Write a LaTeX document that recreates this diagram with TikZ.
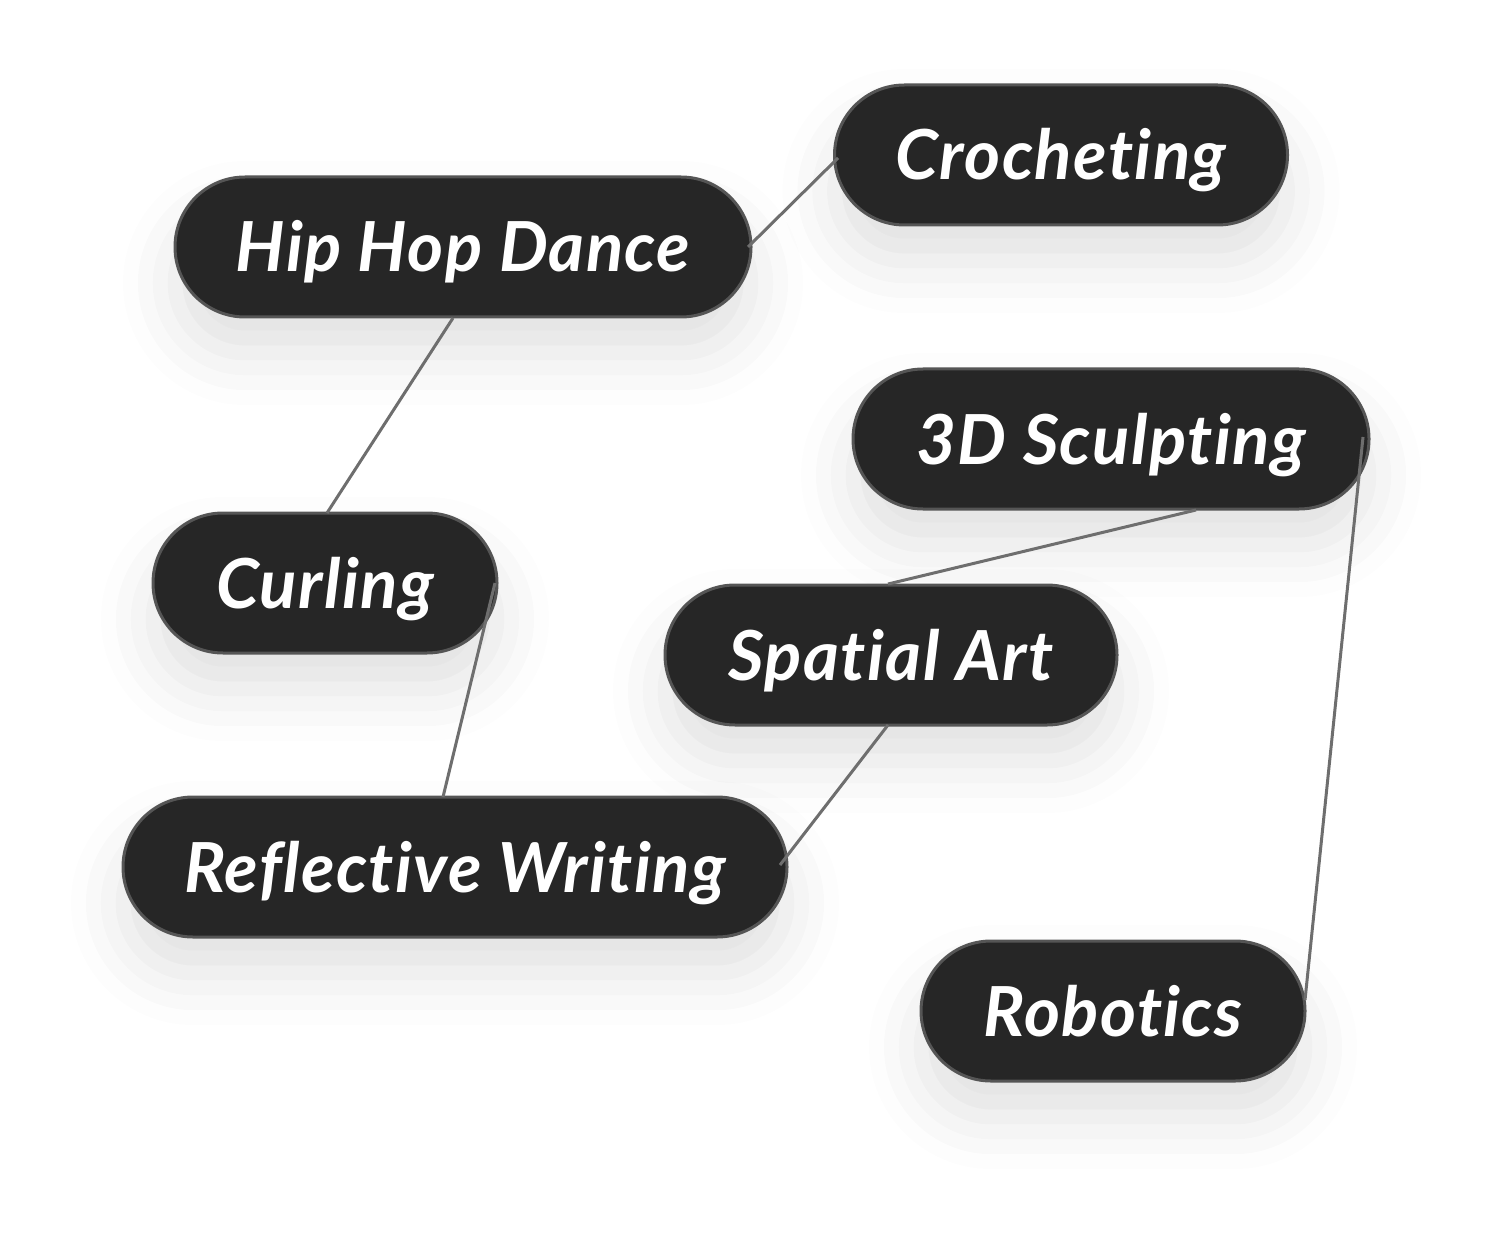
\documentclass[tikz,border=0pt]{standalone}
\usepackage{fontspec}
\setmainfont{Lato}[Ligatures={NoCommon,NoRare},LetterSpace=2]
\usetikzlibrary{shadows.blur}
\definecolor{nodefill}{HTML}{262626}
\definecolor{nodeborder}{HTML}{555555}
\definecolor{edgecol}{HTML}{6E6E6E}
\begin{document}
\begin{tikzpicture}[x=0.5pt,y=-0.5pt,
  pill/.style={draw=nodeborder, line width=1.5pt, fill=nodefill, rounded corners=35pt,
    minimum height=70pt, text=white, inner sep=0pt,
    font=\fontsize{34.5}{40}\selectfont\bfseries\itshape,
    blur shadow={shadow xshift=0pt, shadow yshift=-18pt, shadow blur radius=26pt, shadow opacity=12}},
  link/.style={draw=edgecol, line width=1.5pt}]
\useasboundingbox (0,0) rectangle (1491,1240);
\newcommand{\lbl}[1]{\smash{\raisebox{-12.5pt}{#1}}}
\node[pill, minimum width=226.5pt] (cro) at (1061,155) {\lbl{Crocheting}};
\node[pill, minimum width=288pt] (hip) at (463,247) {\lbl{Hip Hop Dance}};
\node[pill, minimum width=258pt] (scu) at (1111,439) {\lbl{3D Sculpting}};
\node[pill, minimum width=172pt] (cur) at (325,583) {\lbl{Curling}};
\node[pill, minimum width=226pt] (spa) at (891,655) {\lbl{Spatial Art}};
\node[pill, minimum width=332pt] (ref) at (455,867) {\lbl{Reflective Writing}};
\node[pill, minimum width=192pt] (rob) at (1113,1011) {\lbl{Robotics}};
\coordinate (hipR) at (748,247);
\coordinate (croL) at (838,158);
\coordinate (hipB) at (453,318);
\coordinate (curT) at (327,513);
\coordinate (curR) at (495,583);
\coordinate (refT) at (443,797);
\coordinate (scuB) at (1196,510);
\coordinate (spaT) at (888,584);
\coordinate (spaB) at (888,725);
\coordinate (refR) at (780,865);
\coordinate (scuR) at (1363,437);
\coordinate (robR) at (1305,1000);
\draw[link] (hipR) -- (croL);
\draw[link] (hipB) -- (curT);
\draw[link] (curR) -- (refT);
\draw[link] (scuB) -- (spaT);
\draw[link] (spaB) -- (refR);
\draw[link] (scuR) -- (robR);
\end{tikzpicture}
\end{document}
